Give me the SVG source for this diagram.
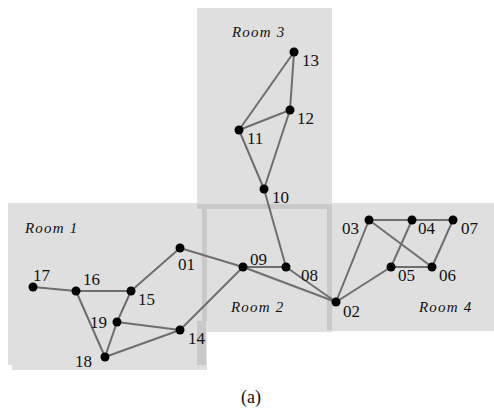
<svg xmlns="http://www.w3.org/2000/svg" width="494" height="411" viewBox="0 0 494 411">
<style>
.room{fill:#dfdfdf}
.strip{fill:#c9c9c9}
.e{stroke:#6e6e6e;stroke-width:2;fill:none}
.n{fill:#000}
.lb{font-family:"Liberation Serif","Times New Roman",serif;font-size:17px;fill:#111}
.rl{font-family:"Liberation Serif","Times New Roman",serif;font-style:italic;font-size:15px;fill:#111;letter-spacing:1.2px}
.cap{font-family:"Liberation Serif","Times New Roman",serif;font-size:18px;fill:#111}
</style>
<g id="rooms">
<rect class="room" x="197" y="8" width="135" height="201"/>
<rect class="room" x="8" y="203" width="195" height="162"/>
<rect class="room" x="12" y="207" width="195" height="163"/>
<rect class="room" x="197" y="204" width="135" height="128"/>
<rect class="room" x="330" y="203" width="164" height="128"/>
<rect class="strip" x="197" y="204" width="135" height="5"/>
<rect class="strip" x="202" y="204" width="5" height="117"/>
<rect class="strip" x="197" y="321" width="9" height="44"/>
<rect class="strip" x="327" y="204" width="5" height="126"/>
</g>
<g id="connectors" class="e">
<line x1="33" y1="287" x2="76" y2="291"/>
<line x1="76" y1="291" x2="131" y2="291"/>
<line x1="131" y1="291" x2="180" y2="248"/>
<line x1="76" y1="291" x2="105" y2="357"/>
<line x1="105" y1="357" x2="117" y2="322"/>
<line x1="117" y1="322" x2="131" y2="291"/>
<line x1="117" y1="322" x2="180" y2="330"/>
<line x1="105" y1="357" x2="180" y2="330"/>
<line x1="180" y1="330" x2="243" y2="267"/>
<line x1="180" y1="248" x2="243" y2="267"/>
<line x1="243" y1="267" x2="336" y2="302"/>
<line x1="243" y1="267" x2="286" y2="267"/>
<line x1="286" y1="267" x2="336" y2="302"/>
<line x1="286" y1="267" x2="264" y2="189"/>
<line x1="264" y1="189" x2="239" y2="130"/>
<line x1="264" y1="189" x2="290" y2="110"/>
<line x1="239" y1="130" x2="290" y2="110"/>
<line x1="239" y1="130" x2="294" y2="52"/>
<line x1="290" y1="110" x2="294" y2="52"/>
<line x1="336" y1="302" x2="369" y2="220"/>
<line x1="336" y1="302" x2="391" y2="267"/>
<line x1="369" y1="220" x2="412" y2="220"/>
<line x1="412" y1="220" x2="453" y2="220"/>
<line x1="369" y1="220" x2="432" y2="267"/>
<line x1="412" y1="220" x2="391" y2="267"/>
<line x1="391" y1="267" x2="432" y2="267"/>
<line x1="432" y1="267" x2="453" y2="220"/>
</g>
<g id="n01"><circle class="n" cx="180" cy="248" r="4.5"/><text class="lb" x="178" y="270">01</text></g>
<g id="n02"><circle class="n" cx="336" cy="302" r="4.5"/><text class="lb" x="343" y="317">02</text></g>
<g id="n03"><circle class="n" cx="369" cy="220" r="4.5"/><text class="lb" x="342" y="234">03</text></g>
<g id="n04"><circle class="n" cx="412" cy="220" r="4.5"/><text class="lb" x="418" y="234">04</text></g>
<g id="n05"><circle class="n" cx="391" cy="267" r="4.5"/><text class="lb" x="398" y="281">05</text></g>
<g id="n06"><circle class="n" cx="432" cy="267" r="4.5"/><text class="lb" x="439" y="281">06</text></g>
<g id="n07"><circle class="n" cx="453" cy="220" r="4.5"/><text class="lb" x="461" y="234">07</text></g>
<g id="n08"><circle class="n" cx="286" cy="267" r="4.5"/><text class="lb" x="301" y="281">08</text></g>
<g id="n09"><circle class="n" cx="243" cy="267" r="4.5"/><text class="lb" x="250" y="265">09</text></g>
<g id="n10"><circle class="n" cx="264" cy="189" r="4.5"/><text class="lb" x="272" y="203">10</text></g>
<g id="n11"><circle class="n" cx="239" cy="130" r="4.5"/><text class="lb" x="247" y="144">11</text></g>
<g id="n12"><circle class="n" cx="290" cy="110" r="4.5"/><text class="lb" x="297" y="124">12</text></g>
<g id="n13"><circle class="n" cx="294" cy="52" r="4.5"/><text class="lb" x="302" y="66">13</text></g>
<g id="n14"><circle class="n" cx="180" cy="330" r="4.5"/><text class="lb" x="188" y="344">14</text></g>
<g id="n15"><circle class="n" cx="131" cy="291" r="4.5"/><text class="lb" x="138" y="305">15</text></g>
<g id="n16"><circle class="n" cx="76" cy="291" r="4.5"/><text class="lb" x="83" y="285">16</text></g>
<g id="n17"><circle class="n" cx="33" cy="287" r="4.5"/><text class="lb" x="33" y="281">17</text></g>
<g id="n18"><circle class="n" cx="105" cy="357" r="4.5"/><text class="lb" x="75" y="367">18</text></g>
<g id="n19"><circle class="n" cx="117" cy="322" r="4.5"/><text class="lb" x="90" y="328">19</text></g>
<g id="labels">
<text class="rl" x="25" y="233">Room 1</text>
<text class="rl" x="231" y="312">Room 2</text>
<text class="rl" x="232" y="37">Room 3</text>
<text class="rl" x="419" y="312">Room 4</text>
<text class="cap" x="251" y="403" text-anchor="middle">(a)</text>
</g>
</svg>
